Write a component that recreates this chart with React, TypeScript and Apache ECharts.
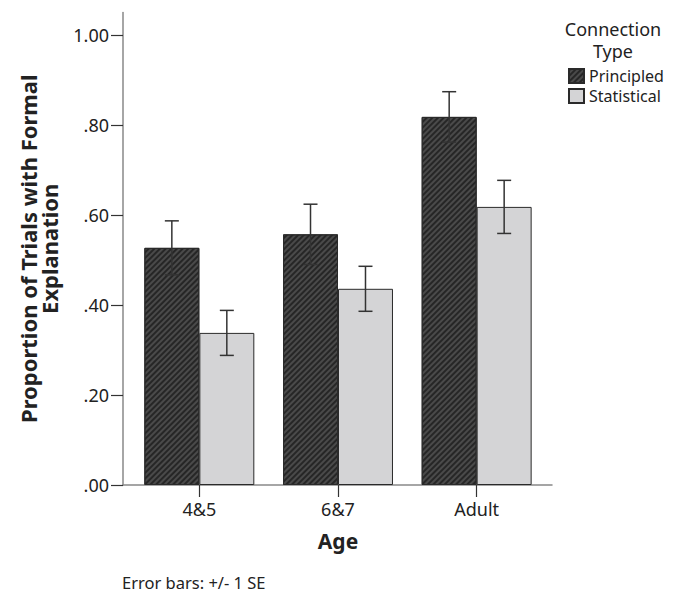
import React, { useEffect, useRef } from "react";
import * as echarts from "echarts";

const categories = ["4&5", "6&7", "Adult"];
const principled = [0.527, 0.557, 0.818];
const principledSE = [0.06, 0.067, 0.056];
const statistical = [0.338, 0.436, 0.618];
const statisticalSE = [0.05, 0.05, 0.059];
const yTicks = [0, 0.2, 0.4, 0.6, 0.8, 1.0];
const yTickLabels = [".00", ".20", ".40", ".60", ".80", "1.00"];

const FONT = "'Noto Sans', sans-serif";
const GAP = 0.207;

export default function App() {
  const ref = useRef<HTMLDivElement>(null);
  useEffect(() => {
    if (!ref.current) return;
    const chart = echarts.init(ref.current, null, { renderer: "svg" });

    const errSeries = (vals: number[], se: number[], side: number, name: string) => ({
      type: "custom",
      name,
      xAxisIndex: 1,
      yAxisIndex: 1,
      silent: true,
      z: 10,
      data: vals.map((v, i) => [i, v - se[i], v + se[i]]),
      renderItem: (params: any, api: any) => {
        const idx = api.value(0);
        const lo = api.value(1);
        const hi = api.value(2);
        const band = api.size([1, 0])[0];
        const bw = (band * (1 - GAP)) / 2;
        const cx = api.coord([idx, 0])[0] + (side * bw) / 2;
        const yLo = api.coord([idx, lo])[1];
        const yHi = api.coord([idx, hi])[1];
        const cap = 7;
        const style = { stroke: "#333333", lineWidth: 1.5 };
        return {
          type: "group",
          children: [
            { type: "line", shape: { x1: cx, y1: yLo, x2: cx, y2: yHi }, style },
            { type: "line", shape: { x1: cx - cap, y1: yLo, x2: cx + cap, y2: yLo }, style },
            { type: "line", shape: { x1: cx - cap, y1: yHi, x2: cx + cap, y2: yHi }, style },
          ],
        };
      },
    });

    const option: any = {
      animation: false,
      backgroundColor: "#ffffff",
      textStyle: { fontFamily: FONT },
      grid: [
        { left: 123, right: 133, top: 12.5, bottom: 107 },
        { left: 130, right: 139, top: 12.5, bottom: 107 },
      ],
      xAxis: [
        {
          type: "value",
          gridIndex: 0,
          min: 0,
          max: 1,
          axisLine: { show: true, lineStyle: { color: "#888888", width: 1.5 } },
          axisTick: { show: false },
          axisLabel: { show: false },
          splitLine: { show: false },
        },
        {
          type: "category",
          gridIndex: 1,
          data: categories,
          axisLine: { show: false },
          axisTick: { show: true, alignWithLabel: true, length: 12, lineStyle: { color: "#333333", width: 1.2 } },
          axisLabel: { margin: 15, fontSize: 18, color: "#222222", fontFamily: FONT },
          name: "Age",
          nameLocation: "middle",
          nameGap: 45,
          nameTextStyle: { fontSize: 21, fontWeight: "bold", color: "#222222", fontFamily: FONT },
        },
      ],
      yAxis: [
        {
          type: "value",
          gridIndex: 0,
          min: 0,
          max: 1.05,
          axisLine: { show: true, lineStyle: { color: "#888888", width: 1.5 } },
          axisTick: {
            show: true,
            length: 12,
            customValues: yTicks,
            lineStyle: { color: "#333333", width: 1.2 },
          },
          axisLabel: {
            margin: 14,
            fontSize: 18,
            color: "#222222",
            fontFamily: FONT,
            customValues: yTicks,
            formatter: (v: number) => {
              const i = yTicks.findIndex((t) => Math.abs(t - v) < 1e-6);
              return i >= 0 ? yTickLabels[i] : "";
            },
          },
          splitLine: { show: false },
          name: "Proportion of Trials with Formal\nExplanation",
          nameLocation: "middle",
          nameGap: 64,
          nameTextStyle: {
            fontSize: 22,
            fontWeight: "bold",
            color: "#222222",
            fontFamily: FONT,
            lineHeight: 21,
            align: "center",
          },
        },
        {
          type: "value",
          gridIndex: 1,
          min: 0,
          max: 1.05,
          show: false,
        },
      ],
      legend: {
        orient: "vertical",
        left: 568,
        top: 68,
        padding: 0,
        itemWidth: 15,
        itemHeight: 14,
        itemGap: 4,
        icon: "rect",
        data: ["Principled", "Statistical"],
        textStyle: { fontSize: 16, color: "#222222", fontFamily: FONT },
      },
      graphic: [
        {
          type: "text",
          x: 613,
          y: 29,
          style: {
            text: "Connection",
            align: "center",
            verticalAlign: "middle",
            font: `18px ${FONT}`,
            fill: "#222222",
          },
        },
        {
          type: "text",
          x: 613,
          y: 51,
          style: {
            text: "Type",
            align: "center",
            verticalAlign: "middle",
            font: `18px ${FONT}`,
            fill: "#222222",
          },
        },
        {
          type: "text",
          x: 122,
          y: 582,
          style: {
            text: "Error bars: +/- 1 SE",
            verticalAlign: "middle",
            font: `16.5px ${FONT}`,
            fill: "#222222",
          },
        },
      ],
      series: [
        {
          type: "bar",
          name: "Principled",
          xAxisIndex: 1,
          yAxisIndex: 1,
          data: principled,
          barGap: "0%",
          barCategoryGap: GAP * 100 + "%",
          itemStyle: {
            color: "#4a4a4a",
            borderColor: "#2a2a2a",
            borderWidth: 1,
            decal: {
              symbol: "rect",
              symbolSize: 1,
              color: "#262626",
              dashArrayX: [1, 0],
              dashArrayY: [1.4, 1.6],
              rotation: -Math.PI / 4,
            },
          },
        },
        {
          type: "bar",
          name: "Statistical",
          xAxisIndex: 1,
          yAxisIndex: 1,
          data: statistical,
          barGap: "0%",
          barCategoryGap: GAP * 100 + "%",
          itemStyle: { color: "#d4d4d6", borderColor: "#2a2a2a", borderWidth: 1 },
        },
        errSeries(principled, principledSE, -1, "errP"),
        errSeries(statistical, statisticalSE, 1, "errS"),
      ],
    };
    chart.setOption(option);
    return () => chart.dispose();
  }, []);
  return (
    <div
      ref={ref}
      style={{ position: "absolute", left: 0, top: 0, width: 685, height: 592, background: "#fff" }}
    />
  );
}
